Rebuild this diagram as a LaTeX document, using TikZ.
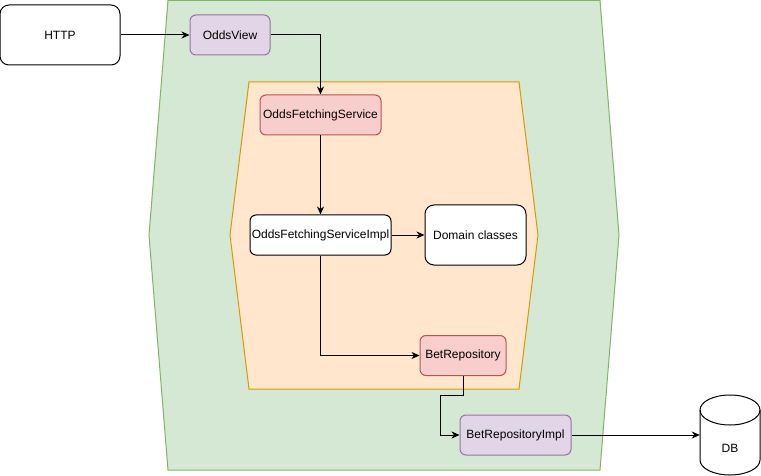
\documentclass[tikz,border=0pt]{standalone}
\usepackage{fontspec}
\setmainfont{Liberation Sans}
\usetikzlibrary{arrows.meta}

\definecolor{layergreen}{HTML}{D5E8D4}
\definecolor{layergreenline}{HTML}{82B366}
\definecolor{coreorange}{HTML}{FFE6CC}
\definecolor{coreorangeline}{HTML}{D79B00}
\definecolor{adapterpurple}{HTML}{E1D5E7}
\definecolor{adapterpurpleline}{HTML}{9673A6}
\definecolor{portred}{HTML}{F8CECC}
\definecolor{portredline}{HTML}{B85450}

\tikzset{
  box/.style={draw, line width=1pt, rounded corners=6pt, minimum height=40pt, inner sep=0pt},
  bigbox/.style={box, rounded corners=9pt, minimum height=60pt},
  adapter/.style={box, fill=adapterpurple, draw=adapterpurpleline},
  port/.style={box, fill=portred, draw=portredline},
  link/.style={->, line width=1pt, >={Stealth[length=8pt,width=7pt,inset=2.5pt]}}
}

\begin{document}
\begin{tikzpicture}[x=1pt, y=-1pt, font=\fontsize{12}{14}\selectfont]
    \useasboundingbox (0,0) rectangle (761,476);

    % outer layer and core
    \filldraw[fill=layergreen, draw=layergreenline, line width=1pt](168,0.5) -- (600,0.5) -- (619,235) -- (600,470) -- (168,470) -- (149,235) -- cycle;
    \filldraw[fill=coreorange, draw=coreorangeline, line width=1pt](249,82) -- (519,82) -- (538,235) -- (519,389) -- (249,389) -- (230,235) -- cycle;

    \node[bigbox, fill=white, minimum width=120pt] (http) at (60,35) {HTTP};
    \node[adapter, minimum width=80pt] (oddsview) at (230,35) {OddsView};
    \node[port, minimum width=121pt] (fetching) at (320.5,115) {OddsFetchingService};
    \node[box, fill=white, minimum width=141pt] (fetchingimpl) at (320.5,235) {OddsFetchingServiceImpl};
    \node[bigbox, fill=white, minimum width=101pt] (domain) at (475.5,235) {Domain classes};
    \node[port, minimum width=86pt] (betrepo) at (463,355.5) {BetRepository};
    \node[adapter, minimum width=111pt] (betrepoimpl) at (515.5,435) {BetRepositoryImpl};

    % database cylinder
    \node[minimum width=60pt, minimum height=80pt, inner sep=0pt] (db) at (730,435) {};
    \filldraw[fill=white, line width=1pt](700,410) -- (700,460) arc[start angle=180, end angle=360, x radius=30, y radius=-15] -- (760,410) arc[start angle=0, end angle=180, x radius=30, y radius=-15];
    \draw[line width=1pt](700,410) arc[start angle=180, end angle=360, x radius=30, y radius=-15];
    \node (dblabel) at (730,448) {DB};

    \coordinate (bend) at (440.5,395.5);

    \draw[link](http) -- (oddsview);
    \draw[link](oddsview.east) -| (fetching.north);
    \draw[link](fetching) -- (fetchingimpl);
    \draw[link](fetchingimpl) -- (domain);
    \draw[link](fetchingimpl.south) |- (betrepo.west);
    \draw[link](betrepo.south) |- (bend) |- (betrepoimpl.west);
    \draw[link](betrepoimpl) -- (db);

\end{tikzpicture}
\end{document}
